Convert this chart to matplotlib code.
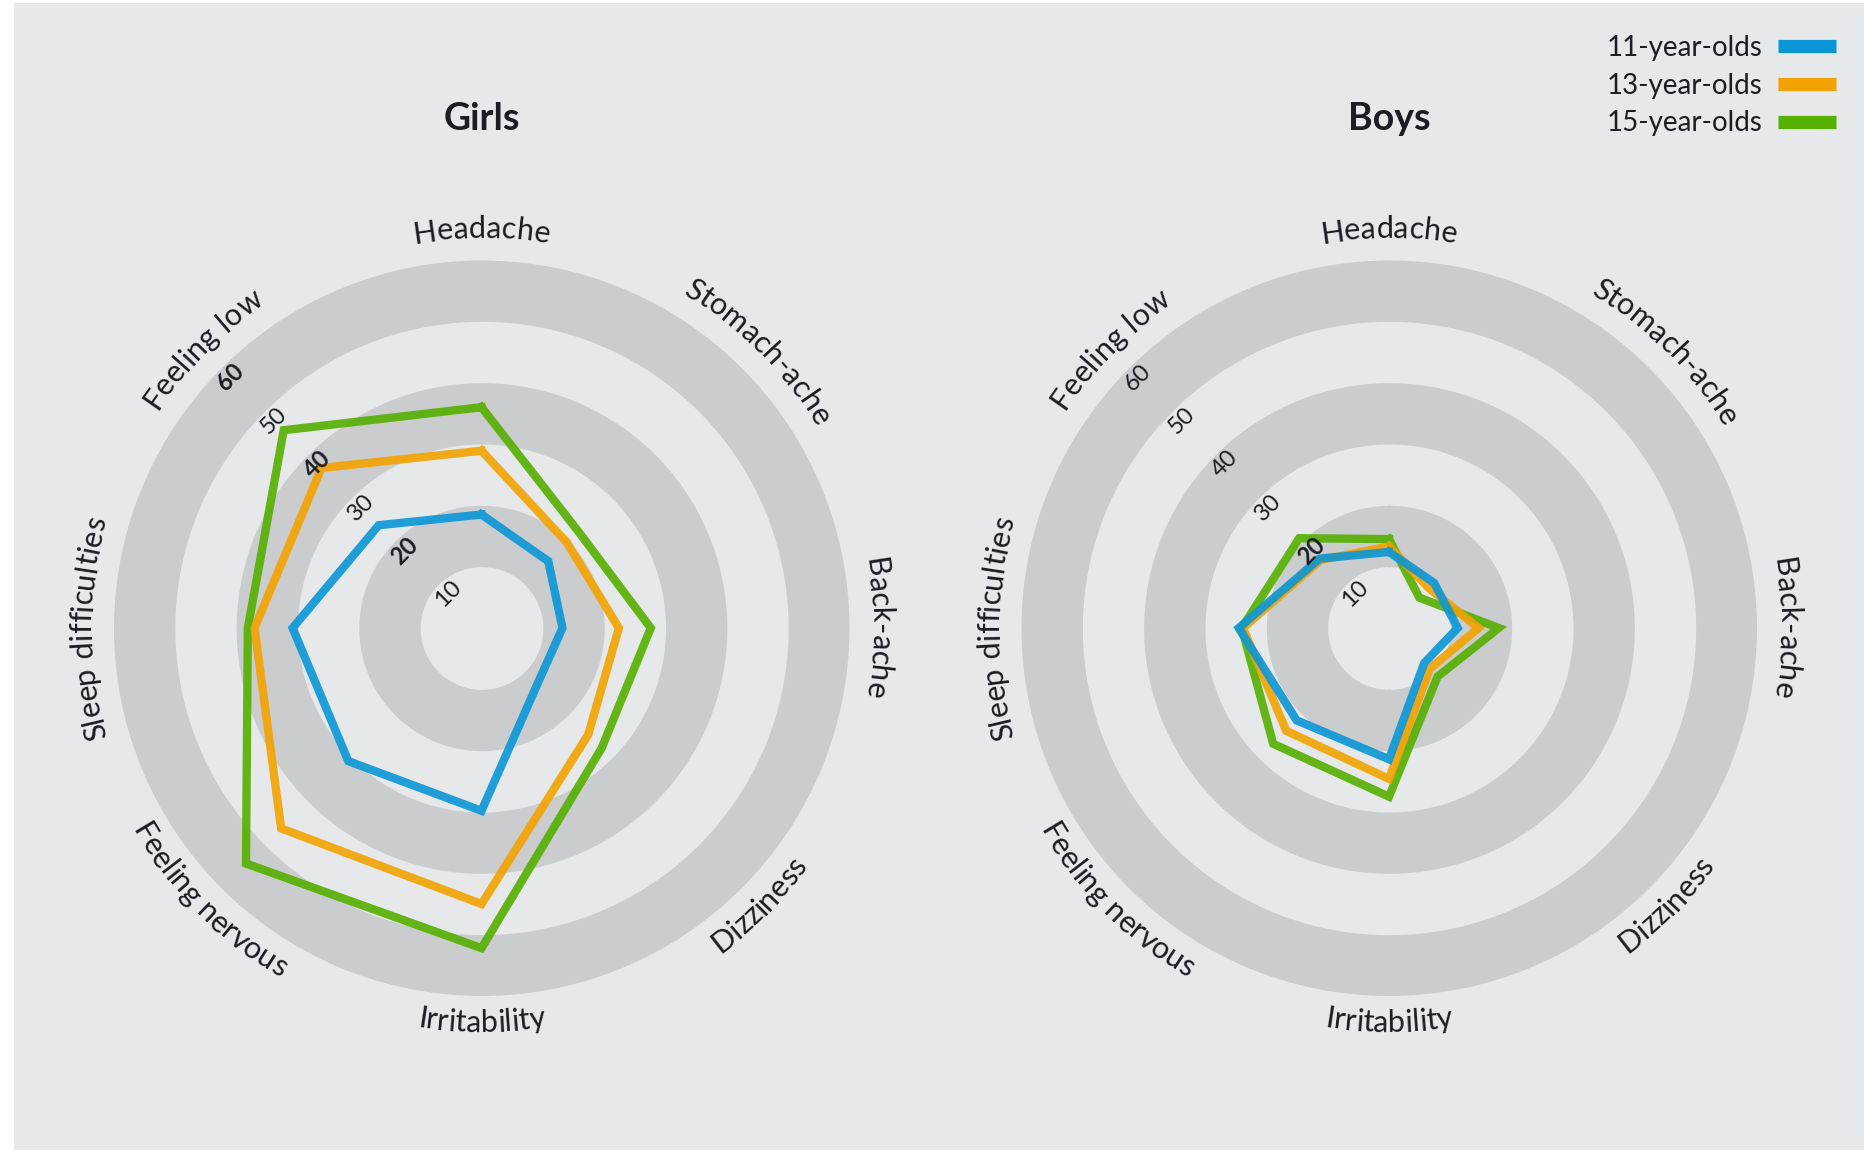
import numpy as np
import matplotlib
matplotlib.use("Agg")
import matplotlib.pyplot as plt
from matplotlib.textpath import text_to_path
from matplotlib.font_manager import FontProperties
from matplotlib.lines import Line2D
from matplotlib.patches import Rectangle

# ---------------- data ----------------
categories = ["Headache", "Stomach-ache", "Back-ache", "Dizziness",
              "Irritability", "Feeling nervous", "Sleep difficulties", "Feeling low"]
top_labels = ["Headache", "Stomach-ache", "Back-ache", "Sleep difficulties", "Feeling low"]
series_labels = ["11-year-olds", "13-year-olds", "15-year-olds"]

girls_11 = [18.5, 15.4, 13.2, 12.9, 29.8, 30.7, 30.8, 23.7]
girls_13 = [28.9, 19.7, 22.4, 24.6, 45.0, 46.2, 37.0, 36.9]
girls_15 = [36.0, 22.3, 27.6, 27.7, 52.2, 54.3, 38.1, 45.6]

boys_11 = [12.4, 10.4, 11.2, 8.1, 21.4, 21.3, 24.5, 16.0]
boys_13 = [13.3, 9.2, 14.6, 9.4, 24.6, 23.7, 23.8, 15.7]
boys_15 = [14.5, 7.0, 17.9, 11.2, 27.5, 26.7, 24.0, 20.7]

tick_values = [10, 20, 30, 40, 50, 60]
band_ranges = [(10, 20), (30, 40), (50, 60)]
r_max = 60

# ---------------- style ----------------
W, H, DPI = 1872, 1152, 100
BG = "#e7e8ea"
BAND = "#cbccce"
TXT = "#1c1c24"
COLORS = ["#0a96d6", "#f2a200", "#55b000"]
FONT = "Lato"

fig = plt.figure(figsize=(W / DPI, H / DPI), dpi=DPI, facecolor="white")
fig.patches.append(Rectangle((14 / W, 2 / H), (1864 - 14) / W, (1149 - 2) / H,
                             transform=fig.transFigure, facecolor=BG,
                             edgecolor="none", zorder=-5))

R_PX = 368
PX_PER_UNIT = R_PX / r_max
R_TOP = 390.0
R_BOT = 404.0
label_fp = FontProperties(family=FONT, size=22)


def make_ax(cx, cy):
    ax = fig.add_axes([(cx - R_PX) / W, (H - cy - R_PX) / H, 2 * R_PX / W, 2 * R_PX / H],
                      projection="polar")
    ax.set_theta_zero_location("N")
    ax.set_theta_direction(-1)
    ax.set_ylim(0, r_max)
    ax.set_facecolor("none")
    ax.grid(False)
    ax.set_xticks([])
    ax.set_yticks([])
    ax.spines["polar"].set_visible(False)
    return ax


def prefix_width(s):
    if not s:
        return 0.0
    w, _, _ = text_to_path.get_text_width_height_descent(s, label_fp, ismath=False)
    return w * DPI / 72.0


def curved_label(ax, text, theta_deg, top):
    widths = [prefix_width(text[:i]) for i in range(len(text) + 1)]
    total = widths[-1]
    phi0 = 90.0 - theta_deg
    R = R_TOP if top else R_BOT
    for i, ch in enumerate(text):
        if ch == " ":
            continue
        c = 0.5 * (widths[i] + widths[i + 1]) - total / 2.0
        if top:
            phi = phi0 - np.degrees(c / R)
            rot = phi - 90.0
        else:
            phi = phi0 + np.degrees(c / R)
            rot = phi + 90.0
        ax.text(np.radians(90.0 - phi), R / PX_PER_UNIT, ch, rotation=rot,
                rotation_mode="anchor", ha="center", va="baseline",
                fontproperties=label_fp, color=TXT, zorder=5, clip_on=False)


def radar(ax, series, bold_ticks):
    th = np.linspace(0, 2 * np.pi, 721)
    for a, b in band_ranges:
        ax.fill_between(th, a, b, color=BAND, lw=0, zorder=1)
    angles = np.radians(np.arange(len(categories)) * 360.0 / len(categories))
    ang_c = np.append(angles, angles[0])
    for vals, col in reversed(list(zip(series, COLORS))):
        v = np.append(vals, vals[0])
        ax.plot(ang_c, v, color=col, lw=6, alpha=0.9, solid_joinstyle="miter",
                zorder=3)
    for t in tick_values:
        ax.text(np.radians(315), t - 2.2, str(t), rotation=45, rotation_mode="anchor",
                ha="center", va="center", fontsize=17, family=FONT, color=TXT,
                fontweight="bold" if t in bold_ticks else "normal", zorder=4)
    for cat, ang in zip(categories, np.degrees(angles)):
        curved_label(ax, cat, ang, cat in top_labels)


ax_g = make_ax(481.5, 628)
radar(ax_g, [girls_11, girls_13, girls_15], bold_ticks=[20, 40, 60])
ax_b = make_ax(1389, 628)
radar(ax_b, [boys_11, boys_13, boys_15], bold_ticks=[20])

fig.text(481.5 / W, 1 - 119 / H, "Girls", ha="center", va="center",
         fontsize=27, fontweight="bold", family=FONT, color=TXT)
fig.text(1389 / W, 1 - 119 / H, "Boys", ha="center", va="center",
         fontsize=27, fontweight="bold", family=FONT, color=TXT)

handles = [Line2D([], [], color=c, lw=9.5, solid_capstyle="butt") for c in COLORS]
fig.legend(handles, series_labels, loc="upper right",
           bbox_to_anchor=(1836 / W, 1 - 35 / H), frameon=False, markerfirst=False,
           prop=FontProperties(family=FONT, size=20), handlelength=2.1,
           handletextpad=0.55, labelspacing=0.42, borderaxespad=0, borderpad=0,
           labelcolor=TXT)

fig.savefig("out.png", dpi=DPI, facecolor="white")
